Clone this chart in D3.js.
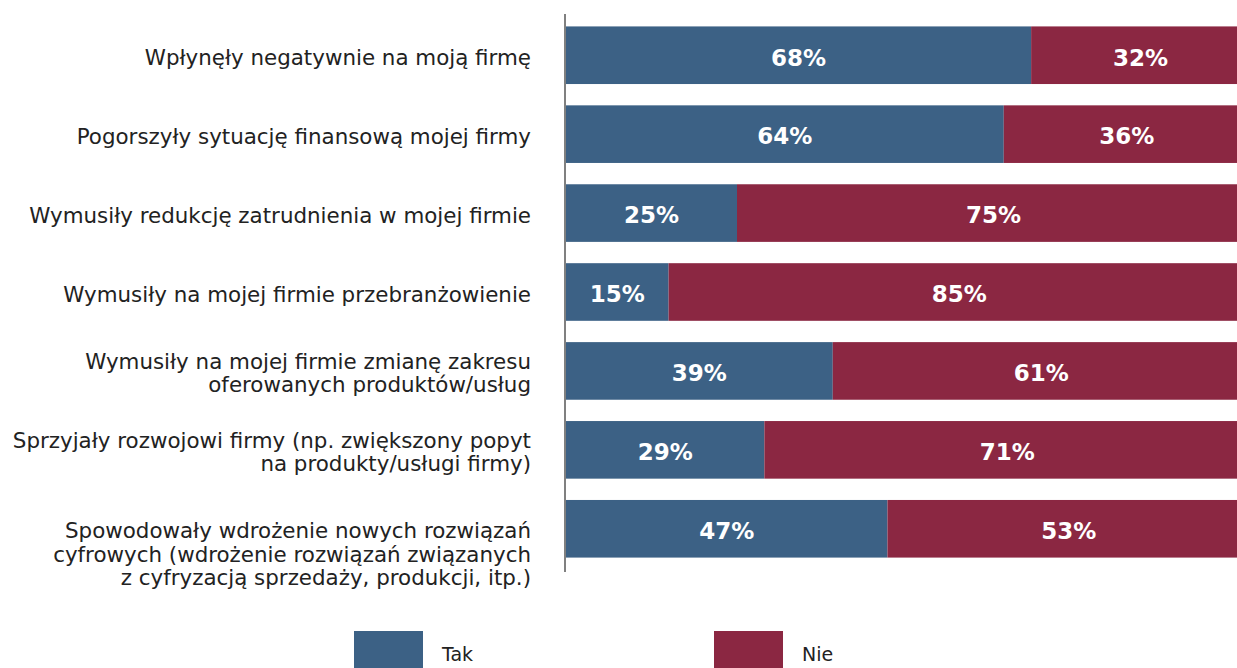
<!DOCTYPE html>
<html lang="pl">
<head>
<meta charset="UTF-8">
<title>Wpływ</title>
<script src="https://d3js.org/d3.v7.min.js"></script>
<style>
  body { margin: 0; background: #fff; }
  svg { display: block; font-family: "DejaVu Sans", sans-serif; }
</style>
</head>
<body>
<svg id="chart" width="1237" height="668"></svg>
<script>
// data
const categories = [
  ["Wpłynęły negatywnie na moją firmę"],
  ["Pogorszyły sytuację finansową mojej firmy"],
  ["Wymusiły redukcję zatrudnienia w mojej firmie"],
  ["Wymusiły na mojej firmie przebranżowienie"],
  ["Wymusiły na mojej firmie zmianę zakresu", "oferowanych produktów/usług"],
  ["Sprzyjały rozwojowi firmy (np. zwiększony popyt", "na produkty/usługi firmy)"],
  ["Spowodowały wdrożenie nowych rozwiązań", "cyfrowych (wdrożenie rozwiązań związanych", "z cyfryzacją sprzedaży, produkcji, itp.)"]
];
const tak = [68, 64, 25, 15, 39, 29, 47];
const nie = [32, 36, 75, 85, 61, 71, 53];
const seriesNames = ["Tak", "Nie"];
const colors = ["#3c6185", "#8b2742"];

const svg = d3.select("#chart");

const x = d3.scaleLinear().domain([0, 100]).range([566, 1250]);
const y = d3.scaleBand()
  .domain(d3.range(categories.length))
  .range([13, 571])
  .paddingInner(0.27)
  .paddingOuter(0.17);

const rows = categories.map((c, i) => ({ i, lines: c, vals: [tak[i], nie[i]] }));
const stacked = d3.stack().keys([0, 1])(rows.map(r => r.vals));

// bars
stacked.forEach((layer, k) => {
  const g = svg.append("g");
  g.selectAll("rect")
    .data(layer)
    .join("rect")
    .attr("x", d => x(d[0]))
    .attr("y", (d, i) => y(i))
    .attr("width", d => x(d[1]) - x(d[0]))
    .attr("height", y.bandwidth())
    .attr("fill", colors[k]);
  g.selectAll("text")
    .data(layer)
    .join("text")
    .attr("x", d => (x(d[0]) + x(d[1])) / 2)
    .attr("y", (d, i) => y(i) + y.bandwidth() / 2)
    .attr("dy", "0.45em")
    .attr("text-anchor", "middle")
    .attr("fill", "#fff")
    .attr("font-size", 23)
    .attr("font-weight", 700)
    .text(d => (d[1] - d[0]) + "%");
});

// axis line
svg.append("line")
  .attr("x1", 565).attr("x2", 565)
  .attr("y1", 14).attr("y2", 572)
  .attr("stroke", "#808080")
  .attr("stroke-width", 2);

// category labels
const lh = 23.5;
const lab = svg.append("g");
rows.forEach(r => {
  const n = r.lines.length;
  const cy = y(r.i) + y.bandwidth() / 2;
  const start = n === 3 ? cy : cy - (n - 1) * lh / 2;
  r.lines.forEach((ln, j) => {
    lab.append("text")
      .attr("text-anchor", "end")
      .attr("font-size", 21.4)
      .attr("fill", "#222")
      .attr("x", 531)
      .attr("y", start + j * lh)
      .attr("dy", "0.45em")
      .text(ln);
  });
});

// legend
const legX = [354, 714];
const leg = svg.append("g");
seriesNames.forEach((s, k) => {
  leg.append("rect")
    .attr("x", legX[k]).attr("y", 631)
    .attr("width", 69).attr("height", 40)
    .attr("fill", colors[k]);
  leg.append("text")
    .attr("x", legX[k] + 88).attr("y", 661)
    .attr("font-size", 19)
    .attr("fill", "#222")
    .text(s);
});
</script>
</body>
</html>
